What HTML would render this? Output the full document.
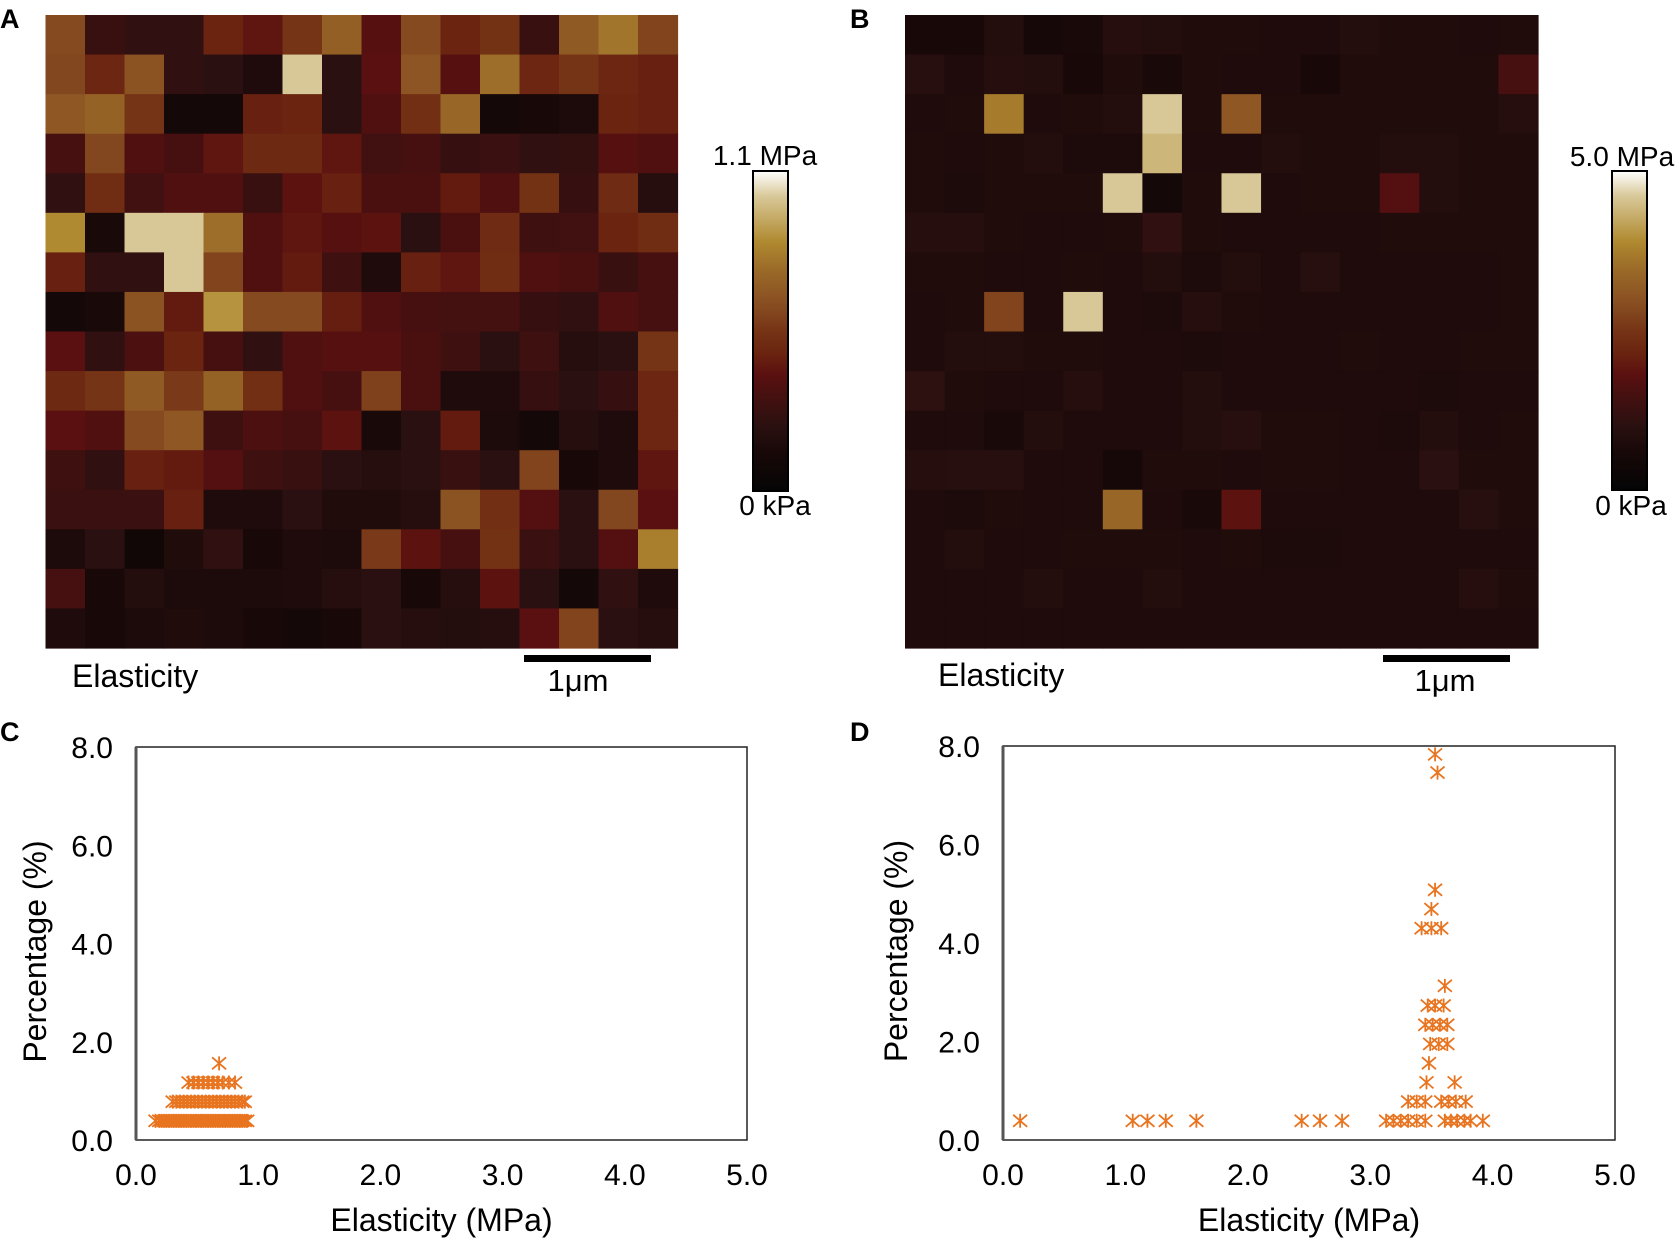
<!DOCTYPE html>
<html><head><meta charset="utf-8"><style>
html,body{margin:0;padding:0;background:#fff;}
svg{display:block;font-family:"Liberation Sans",Arial,sans-serif;}
</style></head><body>
<svg id="fig" width="1677" height="1239" viewBox="0 0 1677 1239" xmlns="http://www.w3.org/2000/svg">
<defs>
<linearGradient id="cbar" x1="0" y1="1" x2="0" y2="0">
<stop offset="0" stop-color="#050505"/><stop offset="0.12" stop-color="#180808"/><stop offset="0.2" stop-color="#2a1010"/>
<stop offset="0.31" stop-color="#4a1010"/><stop offset="0.36" stop-color="#5a1010"/><stop offset="0.43" stop-color="#6a2410"/>
<stop offset="0.5" stop-color="#763416"/><stop offset="0.57" stop-color="#854a20"/><stop offset="0.63" stop-color="#905a24"/>
<stop offset="0.69" stop-color="#9a6a28"/><stop offset="0.78" stop-color="#b08a30"/><stop offset="0.92" stop-color="#d8c898"/>
<stop offset="1" stop-color="#ffffff"/>
</linearGradient>
</defs>
<g id="heatA"></g>
<g id="heatB"></g>
<text x="0" y="28" font-size="27" font-weight="bold">A</text>
<text x="850" y="28" font-size="27" font-weight="bold">B</text>
<text x="0" y="741" font-size="27" font-weight="bold">C</text>
<text x="850" y="741" font-size="27" font-weight="bold">D</text>

<rect x="753" y="171" width="35" height="320" fill="url(#cbar)" stroke="#000" stroke-width="2"/>
<text x="765" y="165" font-size="28" text-anchor="middle">1.1 MPa</text>
<text x="775" y="515" font-size="28" text-anchor="middle">0 kPa</text>
<rect x="1612" y="171" width="35" height="319" fill="url(#cbar)" stroke="#000" stroke-width="2"/>
<text x="1622" y="166" font-size="28" text-anchor="middle">5.0 MPa</text>
<text x="1631" y="515" font-size="28" text-anchor="middle">0 kPa</text>

<text x="72" y="687" font-size="32">Elasticity</text>
<rect x="524" y="655" width="127" height="7" fill="#000"/>
<text x="578" y="691" font-size="31" text-anchor="middle">1μm</text>
<text x="938" y="686" font-size="32">Elasticity</text>
<rect x="1383" y="655" width="127" height="7" fill="#000"/>
<text x="1445" y="691" font-size="31" text-anchor="middle">1μm</text>

<g id="plotC"></g>
<g id="plotD"></g>
</svg>
<script>
const NS="http://www.w3.org/2000/svg";
// Heatmap A values (normalized 0..1 of colour scale)
const heatAValues=[
[.57,.25,.22,.22,.43,.38,.50,.65,.35,.57,.43,.49,.25,.63,.72,.55],
[.56,.44,.60,.22,.20,.15,.92,.20,.36,.61,.35,.70,.44,.50,.44,.42],
[.62,.66,.50,.10,.10,.42,.43,.20,.33,.48,.68,.10,.12,.14,.43,.42],
[.30,.56,.33,.30,.38,.45,.45,.38,.28,.30,.24,.26,.22,.23,.35,.33],
[.22,.47,.28,.33,.33,.25,.37,.42,.31,.31,.40,.33,.49,.24,.46,.18],
[.78,.13,.92,.92,.70,.33,.38,.35,.37,.20,.31,.46,.27,.28,.43,.47],
[.42,.22,.22,.92,.55,.33,.40,.27,.15,.42,.38,.47,.33,.31,.25,.30],
[.10,.13,.60,.40,.80,.57,.57,.41,.33,.30,.29,.29,.24,.22,.33,.30],
[.36,.22,.32,.43,.30,.22,.33,.35,.35,.31,.27,.20,.27,.18,.20,.50],
[.45,.50,.63,.52,.66,.48,.33,.30,.54,.31,.15,.15,.24,.20,.24,.44],
[.36,.33,.57,.62,.27,.32,.30,.37,.13,.20,.40,.14,.10,.18,.15,.44],
[.27,.22,.42,.40,.34,.27,.25,.20,.18,.20,.25,.20,.55,.12,.15,.38],
[.26,.26,.26,.42,.15,.15,.20,.16,.16,.18,.60,.48,.34,.20,.56,.36],
[.14,.20,.08,.16,.22,.12,.15,.14,.52,.37,.30,.49,.26,.20,.34,.75],
[.30,.12,.17,.14,.14,.14,.15,.18,.20,.12,.18,.37,.20,.10,.22,.15],
[.15,.12,.14,.16,.14,.12,.10,.12,.20,.18,.17,.18,.36,.55,.20,.18]];
// Heatmap B values
const heatBValues=[
[.12,.12,.17,.11,.13,.18,.17,.16,.16,.15,.15,.17,.16,.16,.15,.16],
[.19,.15,.18,.17,.12,.16,.13,.16,.15,.15,.12,.16,.16,.16,.16,.30],
[.15,.16,.74,.15,.16,.17,.92,.16,.62,.16,.16,.16,.16,.16,.16,.18],
[.16,.15,.16,.17,.14,.14,.88,.15,.15,.17,.16,.16,.17,.17,.16,.16],
[.16,.14,.16,.16,.16,.92,.10,.16,.92,.15,.16,.16,.34,.17,.16,.16],
[.18,.18,.16,.15,.15,.16,.22,.16,.15,.15,.15,.15,.16,.16,.16,.16],
[.16,.16,.15,.15,.16,.15,.17,.14,.17,.15,.19,.15,.15,.15,.15,.16],
[.15,.16,.55,.15,.92,.15,.14,.18,.16,.15,.15,.15,.15,.15,.15,.16],
[.15,.17,.17,.16,.16,.15,.15,.14,.15,.15,.15,.16,.15,.15,.16,.16],
[.21,.16,.15,.15,.18,.15,.15,.17,.15,.15,.15,.15,.15,.14,.15,.15],
[.15,.15,.13,.17,.15,.15,.15,.17,.19,.16,.16,.15,.14,.17,.15,.16],
[.18,.19,.19,.15,.15,.11,.16,.16,.15,.16,.16,.15,.15,.20,.16,.16],
[.15,.14,.16,.15,.15,.68,.15,.13,.37,.15,.15,.15,.15,.15,.19,.16],
[.15,.17,.15,.15,.16,.16,.16,.15,.16,.14,.14,.15,.15,.15,.15,.15],
[.15,.15,.15,.17,.15,.15,.17,.15,.15,.15,.15,.15,.15,.15,.18,.16],
[.15,.15,.15,.15,.15,.15,.15,.15,.15,.15,.15,.15,.15,.15,.15,.15]];
const cmapStops=[0,.12,.2,.31,.36,.43,.5,.57,.63,.69,.78,.92,1];
const cmapColors=["#050505","#180808","#2a1010","#4a1010","#5a1010","#6a2410","#763416","#854a20","#905a24","#9a6a28","#b08a30","#d8c898","#ffffff"];

// Scatter C data (elasticity MPa) per percentage row
const cRowPercent=[0.39,0.78,1.17,1.56];
const cRow04=[0.16,0.19,0.21,0.23,0.25,0.27,0.29,0.31,0.33,0.35,0.37,0.39,0.41,0.43,0.45,0.47,0.49,0.51,0.53,0.55,0.57,0.59,0.61,0.63,0.65,0.67,0.69,0.71,0.73,0.75,0.77,0.79,0.81,0.83,0.85,0.87,0.89,0.91];
const cRow08=[0.30,0.33,0.36,0.39,0.42,0.45,0.48,0.51,0.54,0.57,0.60,0.63,0.66,0.69,0.72,0.75,0.78,0.81,0.84,0.87,0.89];
const cRow12=[0.43,0.47,0.51,0.55,0.59,0.63,0.67,0.71,0.76,0.81];
const cRow16=[0.68];
// Scatter D data
const dElasticity=[0.14,1.06,1.18,1.33,1.58,2.44,2.59,2.77,3.13,3.19,3.25,3.31,3.38,3.45,3.61,3.66,3.71,3.77,3.82,3.92,
 3.31,3.38,3.45,3.58,3.64,3.70,3.78, 3.46,3.69, 3.48, 3.49,3.56,3.63, 3.45,3.51,3.57,3.63, 3.47,3.53,3.60, 3.61,
 3.42,3.50,3.58, 3.50, 3.53, 3.55, 3.53];
const dPercent=[0.39,0.39,0.39,0.39,0.39,0.39,0.39,0.39,0.39,0.39,0.39,0.39,0.39,0.39,0.39,0.39,0.39,0.39,0.39,0.39,
 0.78,0.78,0.78,0.78,0.78,0.78,0.78, 1.17,1.17, 1.56, 1.95,1.95,1.95, 2.34,2.34,2.34,2.34, 2.73,2.73,2.73, 3.13,
 4.30,4.30,4.30, 4.69, 5.08, 7.46, 7.83];
const xTicks=["0.0","1.0","2.0","3.0","4.0","5.0"];
const yTicks=["0.0","2.0","4.0","6.0","8.0"];

function hex(c){return [parseInt(c.slice(1,3),16),parseInt(c.slice(3,5),16),parseInt(c.slice(5,7),16)];}
function cmap(v){
  for(let i=1;i<cmapStops.length;i++){
    if(v<=cmapStops[i]){const t=(v-cmapStops[i-1])/(cmapStops[i]-cmapStops[i-1]);
      const a=hex(cmapColors[i-1]),b=hex(cmapColors[i]);
      return "rgb("+a.map((x,k)=>Math.round(x+(b[k]-x)*t)).join(",")+")";}
  }
  return cmapColors[cmapColors.length-1];
}
function heat(gid,vals,x0,y0,w,h){
  const g=document.getElementById(gid);
  const n=vals.length,cw=w/16,ch=h/n;
  vals.forEach((row,r)=>row.forEach((v,c)=>{
    const el=document.createElementNS(NS,"rect");
    el.setAttribute("x",(x0+c*cw).toFixed(2));el.setAttribute("y",(y0+r*ch).toFixed(2));
    el.setAttribute("width",(cw+0.6).toFixed(2));el.setAttribute("height",(ch+0.6).toFixed(2));
    el.setAttribute("fill",cmap(v));
    
    
    g.appendChild(el);
  }));
}
heat("heatA",heatAValues,45.5,15,632,633);
heat("heatB",heatBValues,905,15,633,633);

function mk(g,tag,attrs,text){const e=document.createElementNS(NS,tag);for(const k in attrs)e.setAttribute(k,attrs[k]);if(text!==undefined)e.textContent=text;g.appendChild(e);return e;}
function plot(gid,L,R,T,B,labelX,pts,prefix){
  const g=document.getElementById(gid);
  const sx=v=>L+(v/5)*(R-L), sy=v=>B-(v/8)*(B-T);
  const f=mk(g,"rect",{x:L,y:T,width:R-L,height:B-T,fill:"none",stroke:"#222","stroke-width":1.5});
  
  
  const ax=mk(g,"line",{x1:L,y1:T,x2:L,y2:B,stroke:"#555","stroke-width":3});
  
  
  xTicks.forEach((t)=>{const e=mk(g,"text",{x:sx(parseFloat(t)),y:B+45,"font-size":30,"text-anchor":"middle"},t);
    
    });
  yTicks.forEach((t)=>{const e=mk(g,"text",{x:L-23,y:sy(parseFloat(t))+11,"font-size":30,"text-anchor":"end"},t);
    
    });
  const xt=mk(g,"text",{x:(L+R)/2,y:B+91,"font-size":32,"text-anchor":"middle"},"Elasticity (MPa)");
  
  
  const cy=(T+B)/2+8;
  const yt=mk(g,"text",{x:labelX,y:cy,"font-size":32,"text-anchor":"middle",transform:"rotate(-90 "+labelX+" "+cy+")"},"Percentage (%)");
  
  
  pts.forEach(p=>{
    const x=sx(p[0]),y=sy(p[1]);
    const m=mk(g,"path",{d:`M${x-7} ${y-6}L${x+7} ${y+6}M${x-7} ${y+6}L${x+7} ${y-6}M${x} ${y-7}L${x} ${y+7}`,stroke:"#e8741f","stroke-width":1.8,fill:"none"});
    
    
  });
}
const cPts=[];
[cRow04,cRow08,cRow12,cRow16].forEach((row,i)=>row.forEach(v=>cPts.push([v,cRowPercent[i]])));
plot("plotC",136,747,747,1140,46,cPts,"chart-c");
const dPts=dElasticity.map((v,i)=>[v,dPercent[i]]);
plot("plotD",1003,1615,746,1140,907,dPts,"chart-d");
</script>
</body></html>
